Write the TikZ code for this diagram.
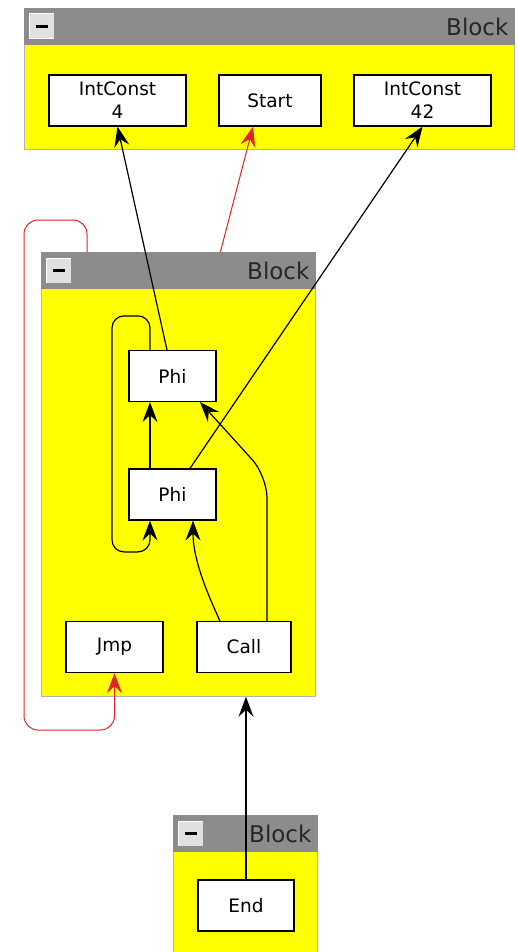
\documentclass[tikz,border=0pt]{standalone}
\usepackage{fontspec}
\setmainfont{DejaVu Sans}
\usetikzlibrary{arrows.meta,calc}
\definecolor{hdrgray}{RGB}{140,140,140}
\definecolor{blkyellow}{RGB}{255,255,0}
\definecolor{cfred}{RGB}{225,35,35}
\tikzset{
    every picture/.style={line width=0.75pt},
    blk/.style={fill=blkyellow, draw=black!30, line width=0.8pt, inner sep=0pt},
    hdr/.style={fill=hdrgray},
    btn/.style={fill=black!12, draw=white, line width=1pt, minimum size=25pt, inner sep=0pt},
    hdrtxt/.style={font=\fontsize{23}{23}\selectfont, text=black!85, inner sep=0pt},
    op/.style={draw, fill=white, line width=1.2pt, minimum height=51pt, inner sep=0pt,
        align=center, font=\fontsize{18.5}{23}\selectfont},
    dep/.style={-{Stealth[length=20pt,width=15pt,inset=7pt]}, line width=1.2pt},
    cf/.style={dep, draw=cfred, line width=1pt}
}

\begin{document}
\begin{tikzpicture}[x=1pt, y=-1pt]

    \useasboundingbox (0,0) rectangle (517,952);

    % --- Bloecke ---
    \foreach \nm/\xa/\ya/\xb/\yb in {topblk/24/8/514/149, midblk/41/252/315/696, endblk/173/815/317/952} {
        \node[blk, anchor=north west, minimum width={(\xb-\xa)*1pt},
            minimum height={(\yb-\ya)*1pt}] (\nm) at (\xa,\ya) {};
        \fill[hdr] (\nm.north west) rectangle ([yshift=-37pt]\nm.north east);
        \node[btn] (\nm-btn) at ([xshift=17.5pt,yshift=-18.5pt]\nm.north west) {};
        \draw[black!45, line width=1pt] (\nm-btn.north east) -- (\nm-btn.south east) -- (\nm-btn.south west);
        \fill (\nm-btn.center) +(-6,-1.5) rectangle +(6,1.5);
        \node[hdrtxt, anchor=east] (\nm-title) at ([xshift=-6pt,yshift=-18.5pt]\nm.north east) {Block};
    }

    % oberer Block
    \node[op, minimum width=137pt] (ic4) at (117.5,100.5) {IntConst\\4};
    \node[op, minimum width=102pt] (start) at (270,100.5) {Start};
    \node[op, minimum width=137pt] (ic42) at (422.5,100.5) {IntConst\\42};

    % mittlerer Block
    \node[op, minimum width=87pt] (phiA) at (172.5,376) {Phi};
    \node[op, minimum width=87pt] (phiB) at (172.5,494.5) {Phi};
    \node[op, minimum width=97pt] (jmp) at (114.5,647) {Jmp};
    \node[op, minimum width=94pt] (call) at (244,647) {Call};

    % unterer Block
    \node[op, minimum width=96pt] (end) at (246,905.5) {End};

    % --- Datenkanten ---
    \draw[dep] ([xshift=-5.5pt]phiA.north) -- (ic4.south);
    \draw[dep] ([xshift=17.5pt]phiB.north) -- (ic42.south);
    \draw[dep] ([xshift=-22.5pt]phiB.north) -- ([xshift=-22.5pt]phiA.south);
    \draw[dep, rounded corners=12pt] ([xshift=-22.5pt]phiA.north) -- ++(0,-34) -- ++(-38,0)
        -- ++(0,236) -- ++(38,0) -- ([xshift=-22.5pt]phiB.south);
    \draw[dep] ([xshift=-24pt]call.north) .. controls (208,595) and (193,560) .. ([xshift=20.5pt]phiB.south);
    \draw[dep, rounded corners=22pt] ([xshift=23pt]call.north) -- ++(0,-145) -- ([xshift=27.5pt]phiA.south);
    \draw[dep] (end.north) -- (end.north |- midblk.south);

    % --- Kontrollfluss ---
    \draw[cf] ([xshift=42pt]midblk.north) -- ([xshift=-17pt]start.south);
    \draw[cf, rounded corners=14pt] ([xshift=46pt]midblk.north west) -- ++(0,-32) -| (24,730) -| (jmp.south);

\end{tikzpicture}
\end{document}
